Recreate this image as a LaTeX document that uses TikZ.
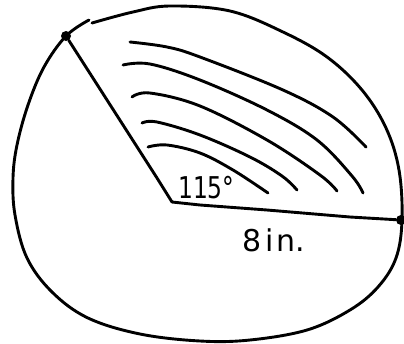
\documentclass[tikz,border=0pt]{standalone}
\usepackage{fontspec}
\setmainfont{DejaVu Sans}
\begin{document}
\begin{tikzpicture}[x=1pt,y=-1pt,
  ink/.style={line width=2.9pt,line cap=round,line join=round,black},
  dotmark/.style={circle,fill=black,inner sep=0pt,minimum size=10pt},
  lbl/.style={font=\fontsize{30}{32}\selectfont,inner sep=0pt}]
\useasboundingbox (0,0) rectangle (404,343);
% outline
\draw[ink] plot[smooth,tension=0.6] coordinates {(92,23) (133,12) (170,6) (230,11) (283,32) (327,57) (362,90) (386,128) (399,170) (402,220) (396,258) (378,287) (350,310) (307,330) (250,340) (200,341) (140,334) (88,318) (52,292) (27,258) (15,215) (13,178) (17,145) (28,105) (44,67) (66,36) (89,20)};
% points
\node[dotmark] (A) at (66,36) {};
\node[dotmark] (B) at (401,220) {};
\coordinate (C) at (172,202);
\draw[ink] (C) -- (157,178) -- (A);
\draw[ink] (C) -- (200,205) -- (267,210) -- (350,217) -- (B);
% hatching arcs
\draw[ink] plot[smooth,tension=0.6] coordinates {(130,42) (167,47) (200,57) (283,90) (333,117) (366,147)};
\draw[ink] plot[smooth,tension=0.6] coordinates {(123,65) (150,64) (200,80) (267,110) (317,140) (352,176) (363,193)};
\draw[ink] plot[smooth,tension=0.6] coordinates {(132,97) (150,93) (200,106) (267,140) (320,175) (337,191)};
\draw[ink] plot[smooth,tension=0.6] coordinates {(142,123) (157,122) (200,135) (250,157) (282,176) (297,190)};
\draw[ink] plot[smooth,tension=0.6] coordinates {(148,147) (167,145) (200,153) (233,170) (268,193)};
% labels
\node[lbl,anchor=south west,xscale=0.78] (t1) at (178,199) {115°};
\node[lbl,anchor=south west] (t2) at (242,252) {8\hspace{4pt}i\hspace{3pt}n.};
\end{tikzpicture}
\end{document}
